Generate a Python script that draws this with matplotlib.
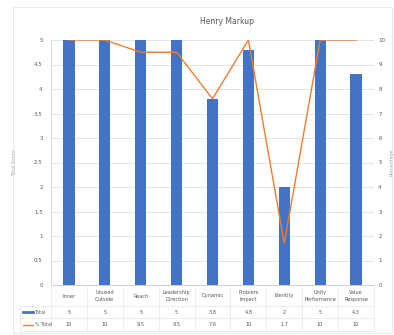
import matplotlib
matplotlib.use("Agg")
import matplotlib.pyplot as plt
from matplotlib.transforms import blended_transform_factory
from matplotlib.patches import Rectangle
from matplotlib.lines import Line2D

# Chart data
categories = ["Inner", "Unused\nOutside", "Reach", "Leadership\nDirection", "Dynamic",
              "Problem\nImpact", "Identity", "Unity\nPerformance", "Value\nResponse"]
total_scores = [5, 5, 5, 5, 3.8, 4.8, 2, 5, 4.3]
percent_scores = [10, 10, 9.5, 9.5, 7.6, 10, 1.7, 10, 10]
series_names = ["Total", "% Total"]
left_ticks = [0, 0.5, 1, 1.5, 2, 2.5, 3, 3.5, 4, 4.5, 5]
right_ticks = [0, 1, 2, 3, 4, 5, 6, 7, 8, 9, 10]

BLUE = "#4472C4"
ORANGE = "#ED7D31"
TXT = "#595959"
GRID = "#D9D9D9"

W, H = 394, 335
fig = plt.figure(figsize=(W / 100, H / 100), dpi=100)
fig.patch.set_facecolor("white")

# outer chart frame
fig.add_artist(Rectangle((13 / W, 2 / H), 379 / W, 326 / H, transform=fig.transFigure,
                         fill=False, edgecolor="#E6E6E6", lw=0.6))

x0, x1, ytop, ybot = 51, 374, 40, 285
ax = fig.add_axes([x0 / W, 1 - ybot / H, (x1 - x0) / W, (ybot - ytop) / H])
xs = list(range(len(categories)))
ax.bar(xs, total_scores, width=0.31, color=BLUE, zorder=2)
ax.set_xlim(-0.5, len(categories) - 0.5)
ax.set_ylim(0, 5)
ax.set_yticks(left_ticks)
ax.set_yticklabels([f"{t:g}" for t in left_ticks])
ax.set_xticks([])
ax.grid(axis="y", color=GRID, lw=0.5, zorder=0)
ax.set_axisbelow(True)
for s in ["top", "right"]:
    ax.spines[s].set_visible(False)
ax.spines["left"].set_color("#C9CCE8")
ax.spines["left"].set_linewidth(0.6)
ax.spines["bottom"].set_color("#C8C8C8")
ax.spines["bottom"].set_linewidth(0.6)
ax.tick_params(axis="y", length=0, labelsize=4, labelcolor=TXT, pad=6)
ax.set_ylabel("Total Score", fontsize=3.5, color="#A0A0A0", labelpad=12)

ax2 = ax.twinx()
ax2.plot(xs, percent_scores, color=ORANGE, lw=1.0, zorder=3)
ax2.set_ylim(0, 10)
ax2.set_yticks(right_ticks)
ax2.set_yticklabels([str(t) for t in right_ticks])
for s in ["top", "right", "left", "bottom"]:
    ax2.spines[s].set_visible(False)
ax2.tick_params(axis="y", length=0, labelsize=4, labelcolor=TXT, pad=3)
ax2.set_ylabel("Percentage", fontsize=3.5, color="#A0A0A0", labelpad=3)

fig.text(227 / W, 1 - 22 / H, "Henry Markup", ha="center", va="center",
         fontsize=5.5, color=TXT)

# data table under the plot
tr = blended_transform_factory(ax.transData, fig.transFigure)
for i, c in enumerate(categories):
    fig.text(i, 1 - 296 / H, c, transform=tr, ha="center", va="center",
             fontsize=3.6, color=TXT, linespacing=1.6)
    fig.text(i, 1 - 312 / H, f"{total_scores[i]:g}", transform=tr, ha="center",
             va="center", fontsize=3.6, color=TXT)
    fig.text(i, 1 - 325 / H, f"{percent_scores[i]:g}", transform=tr, ha="center",
             va="center", fontsize=3.6, color=TXT)

# table grid lines
for yy in [306, 318, 331]:
    fig.add_artist(Line2D([20 / W, x1 / W], [1 - yy / H] * 2, transform=fig.transFigure,
                          color="#E8E8E8", lw=0.5))
for k in range(len(categories) + 1):
    fig.add_artist(Line2D([k - 0.5, k - 0.5], [1 - 285 / H, 1 - 331 / H], transform=tr,
                          color="#E8E8E8", lw=0.5))
fig.add_artist(Line2D([20 / W, 20 / W], [1 - 306 / H, 1 - 331 / H], transform=fig.transFigure,
                      color="#E8E8E8", lw=0.5))

# legend keys inside the table
for row, (name, col) in enumerate(zip(series_names, [BLUE, ORANGE])):
    yy = 1 - (312 + 13 * row) / H
    fig.add_artist(Line2D([23 / W, 33 / W], [yy, yy], transform=fig.transFigure,
                          color=col, lw=2.0 if row == 0 else 1.0))
    fig.text(35 / W, yy, name, ha="left", va="center", fontsize=3.4, color=TXT)

fig.savefig("out.png", dpi=100, facecolor="white")
